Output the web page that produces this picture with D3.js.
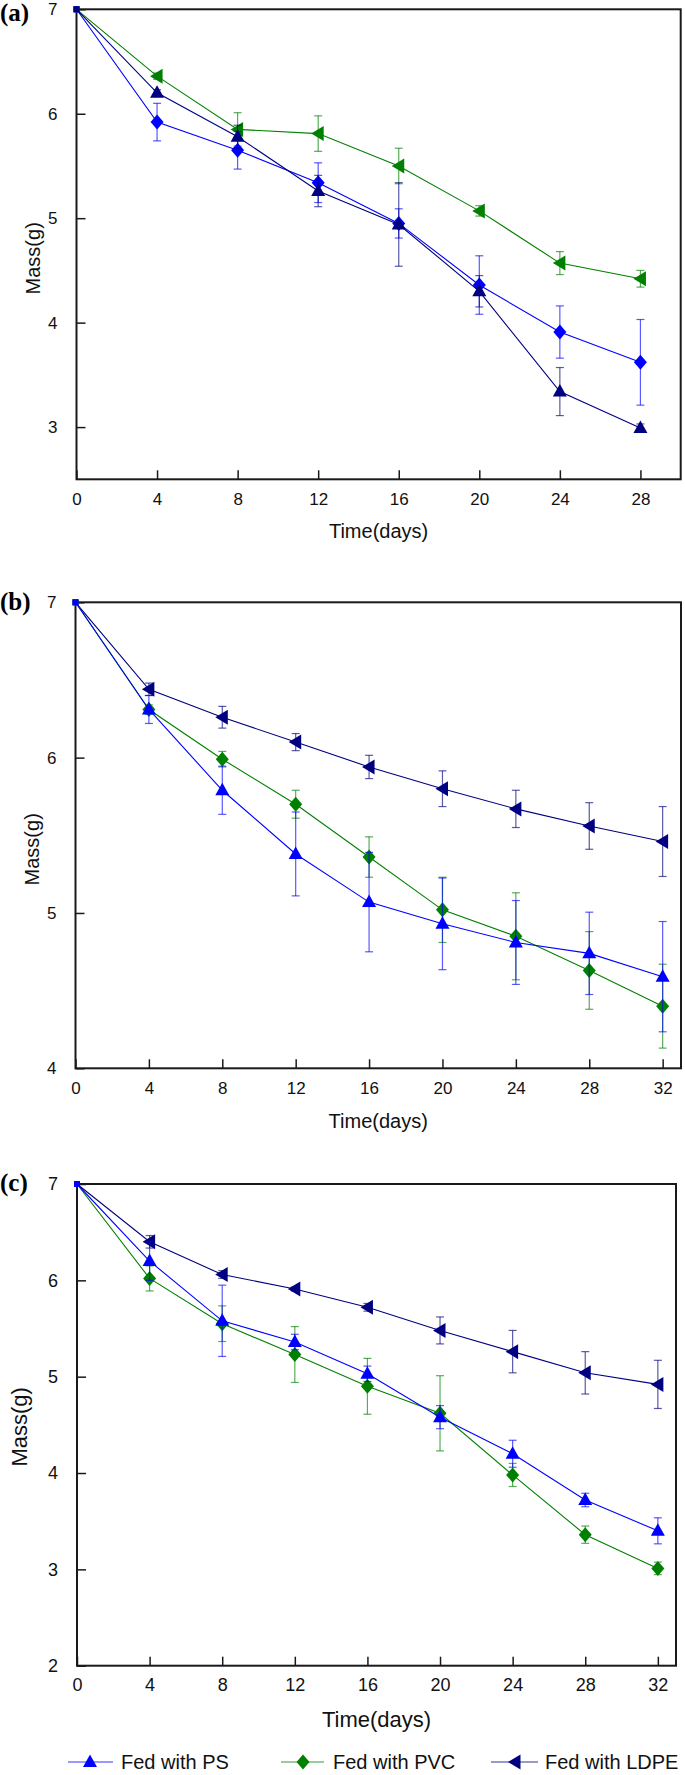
<!DOCTYPE html>
<html><head><meta charset="utf-8">
<script src="https://cdn.jsdelivr.net/npm/d3@7"></script>
<style>body{margin:0;background:#fff}svg{display:block}</style>
</head><body><svg id="chart" width="685" height="1775"></svg>
<script>
// ---------- DATA ----------
const daysA = [0,4,8,12,16,20,24,28];
const daysBC = [0,4,8,12,16,20,24,28,32];
const xTicksA = [0,4,8,12,16,20,24,28];
const xTicksBC = [0,4,8,12,16,20,24,28,32];
const yTicksA = [3,4,5,6,7];
const yTicksB = [4,5,6,7];
const yTicksC = [2,3,4,5,6,7];
const panelLabels = ["(a)","(b)","(c)"];
const xTitle = "Time(days)";
const yTitle = "Mass(g)";
const legendNames = ["Fed with PS","Fed with PVC","Fed with LDPE"];

// panel (a)
const aGreen    = [7,6.36,5.85,5.81,5.50,5.07,4.57,4.42];
const aGreenErr = [0,0.03,0.16,0.17,0.17,0.05,0.11,0.08];
const aBlue     = [7,5.92,5.65,5.34,4.95,4.36,3.91,3.62];
const aBlueErr  = [0,0.18,0.18,0.19,0.14,0.28,0.25,0.41];
const aNavy     = [7,6.20,5.78,5.26,4.94,4.30,3.34,2.99];
const aNavyErr  = [0,0.03,0.11,0.15,0.40,0.15,0.23,0.04];

// panel (b)
const bPS      = [7,6.31,5.79,5.38,5.07,4.93,4.81,4.74,4.59];
const bPSErr   = [0,0.09,0.155,0.27,0.32,0.295,0.27,0.265,0.355];
const bPVC     = [7,6.31,5.99,5.70,5.36,5.02,4.85,4.63,4.40];
const bPVCErr  = [0,0.03,0.05,0.09,0.13,0.21,0.28,0.25,0.27];
const bLDPE    = [7,6.44,6.26,6.10,5.94,5.80,5.67,5.56,5.46];
const bLDPEErr = [0,0.04,0.07,0.055,0.075,0.115,0.12,0.15,0.225];

// panel (c)
const cPS      = [7,6.20,5.58,5.36,5.03,4.58,4.20,3.72,3.40];
const cPSErr   = [0,0.2,0.37,0.08,0.08,0.12,0.14,0.07,0.135];
const cPVC     = [7,6.02,5.55,5.23,4.90,4.62,3.98,3.36,3.01];
const cPVCErr  = [0,0.13,0.185,0.29,0.29,0.39,0.12,0.09,0.065];
const cLDPE    = [7,6.40,6.06,5.91,5.72,5.48,5.26,5.04,4.92];
const cLDPEErr = [0,0.065,0.04,0.02,0.04,0.14,0.22,0.22,0.25];

// ---------- STYLE / LAYOUT ----------
const C_BLUE = "#0000ff", C_GREEN = "#008000", C_NAVY = "#000080";
const FONT = "'Liberation Sans', Arial, sans-serif";

const markerPaths = {
  triUp:   "M0,-7.5L7,5L-7,5Z",
  triLeft: "M-7,0L5.5,-7.5L5.5,7.5Z",
  diamond: "M0,-7.5L6.5,0L0,7.5L-6.5,0Z"
};

const panels = [
  {label: panelLabels[0], left: 76.5, right: 680.7, top: 9.3, bottom: 479.3,
   xDom: [0,30], yDom: [2.5,7], xTicks: xTicksA, yTicks: yTicksA, days: daysA,
   tickFont: 17, titleFont: 20, xTitleY: 533, yTitleX: 35, yTitleOff: 14, labelY: 15,
   series: [
     {v: aGreen, e: aGreenErr, c: C_GREEN, m: "triLeft"},
     {v: aBlue,  e: aBlueErr,  c: C_BLUE,  m: "diamond"},
     {v: aNavy,  e: aNavyErr,  c: C_NAVY,  m: "triUp"}
   ]},
  {label: panelLabels[1], left: 75.5, right: 681, top: 602.3, bottom: 1068.3,
   xDom: [0,33], yDom: [4,7], xTicks: xTicksBC, yTicks: yTicksB, days: daysBC,
   tickFont: 17, titleFont: 20, xTitleY: 1123, yTitleX: 34, yTitleOff: 14, labelY: 604,
   series: [
     {v: bLDPE, e: bLDPEErr, c: C_NAVY,  m: "triLeft"},
     {v: bPVC,  e: bPVCErr,  c: C_GREEN, m: "diamond"},
     {v: bPS,   e: bPSErr,   c: C_BLUE,  m: "triUp"}
   ]},
  {label: panelLabels[2], left: 77, right: 676, top: 1184, bottom: 1665.7,
   xDom: [0,33], yDom: [2,7], xTicks: xTicksBC, yTicks: yTicksC, days: daysBC,
   tickFont: 18, titleFont: 22, xTitleY: 1721, yTitleX: 21, yTitleOff: 2, labelY: 1185,
   series: [
     {v: cLDPE, e: cLDPEErr, c: C_NAVY,  m: "triLeft"},
     {v: cPVC,  e: cPVCErr,  c: C_GREEN, m: "diamond"},
     {v: cPS,   e: cPSErr,   c: C_BLUE,  m: "triUp"}
   ]}
];

const svg = d3.select("#chart");

panels.forEach(p => {
  const x = d3.scaleLinear().domain(p.xDom).range([p.left, p.right]);
  const y = d3.scaleLinear().domain(p.yDom).range([p.bottom, p.top]);
  const g = svg.append("g");

  // frame
  g.append("rect").attr("x", p.left).attr("y", p.top)
    .attr("width", p.right - p.left).attr("height", p.bottom - p.top)
    .attr("fill", "none").attr("stroke", "#1a1a1a").attr("stroke-width", 2);

  // x axis (ticks inward)
  const xAx = g.append("g").attr("transform", `translate(0,${p.bottom})`)
    .call(d3.axisBottom(x).tickValues(p.xTicks).tickFormat(d3.format("d"))
      .tickSizeInner(-9).tickSizeOuter(0).tickPadding(22));
  xAx.select(".domain").remove();
  xAx.selectAll(".tick line").attr("stroke", "#1a1a1a").attr("stroke-width", 1.5);
  xAx.selectAll(".tick text").attr("font-family", FONT).attr("font-size", p.tickFont)
    .attr("fill", "#111").attr("dy", "0.2em");

  // y axis (ticks inward)
  const yAx = g.append("g").attr("transform", `translate(${p.left},0)`)
    .call(d3.axisLeft(y).tickValues(p.yTicks).tickFormat(d3.format("d"))
      .tickSizeInner(-9).tickSizeOuter(0).tickPadding(19));
  yAx.select(".domain").remove();
  yAx.selectAll(".tick line").attr("stroke", "#1a1a1a").attr("stroke-width", 1.5);
  yAx.selectAll(".tick text").attr("font-family", FONT).attr("font-size", p.tickFont)
    .attr("fill", "#111");

  // titles
  g.append("text").attr("x", (p.left + p.right) / 2).attr("y", p.xTitleY)
    .attr("text-anchor", "middle").attr("dominant-baseline", "middle")
    .attr("font-family", FONT).attr("font-size", p.titleFont).attr("fill", "#111")
    .text(xTitle);
  const yc = (p.top + p.bottom) / 2 + p.yTitleOff;
  g.append("text").attr("transform", `translate(${p.yTitleX},${yc}) rotate(-90)`)
    .attr("text-anchor", "middle").attr("dominant-baseline", "middle")
    .attr("font-family", FONT).attr("font-size", p.titleFont).attr("fill", "#111")
    .text(yTitle);

  // panel label
  g.append("text").attr("x", 0).attr("y", p.labelY)
    .attr("dominant-baseline", "middle")
    .attr("font-family", "'Liberation Serif', 'Times New Roman', serif")
    .attr("font-weight", "bold").attr("font-size", 25).attr("fill", "#000")
    .text(p.label);

  // series
  p.series.forEach(s => {
    const pts = p.days.map((d, i) => ({d, v: s.v[i], e: s.e[i]}));
    // error bars
    const eg = g.append("g").attr("stroke", s.c).attr("stroke-opacity", 0.65).attr("stroke-width", 1.2);
    pts.filter(q => q.e > 0).forEach(q => {
      const cx = x(q.d), y1 = y(q.v + q.e), y2 = y(q.v - q.e);
      eg.append("line").attr("x1", cx).attr("x2", cx).attr("y1", y1).attr("y2", y2);
      eg.append("line").attr("x1", cx - 4).attr("x2", cx + 4).attr("y1", y1).attr("y2", y1);
      eg.append("line").attr("x1", cx - 4).attr("x2", cx + 4).attr("y1", y2).attr("y2", y2);
    });
    // line
    g.append("path").datum(pts)
      .attr("d", d3.line().x(q => x(q.d)).y(q => y(q.v)))
      .attr("fill", "none").attr("stroke", s.c).attr("stroke-width", 1.1);
    // markers
    g.selectAll(null).data(pts.slice(1)).enter().append("path")
      .attr("d", markerPaths[s.m])
      .attr("transform", q => `translate(${x(q.d)},${y(q.v)})`)
      .attr("fill", s.c);
    // first point small
    g.append("rect").attr("x", x(pts[0].d) - 3).attr("y", y(pts[0].v) - 3)
      .attr("width", 6).attr("height", 6).attr("fill", s.c);
  });
});

// ---------- LEGEND ----------
const legendItems = [
  {name: legendNames[0], c: C_BLUE,  m: "triUp",   x1: 68,  x2: 113, mx: 90,  tx: 121},
  {name: legendNames[1], c: C_GREEN, m: "diamond", x1: 281, x2: 324, mx: 303, tx: 333},
  {name: legendNames[2], c: C_NAVY,  m: "triLeft", x1: 491, x2: 538, mx: 515, tx: 545}
];
const ly = 1762;
const lg = svg.append("g");
legendItems.forEach(it => {
  lg.append("line").attr("x1", it.x1).attr("x2", it.x2).attr("y1", ly).attr("y2", ly)
    .attr("stroke", it.c).attr("stroke-width", 1.2).attr("stroke-opacity", 0.8);
  lg.append("path").attr("d", markerPaths[it.m])
    .attr("transform", `translate(${it.mx},${ly})`).attr("fill", it.c);
  lg.append("text").attr("x", it.tx).attr("y", ly + 7)
    .attr("font-family", FONT).attr("font-size", 20).attr("fill", "#111")
    .text(it.name);
});
</script></body></html>
